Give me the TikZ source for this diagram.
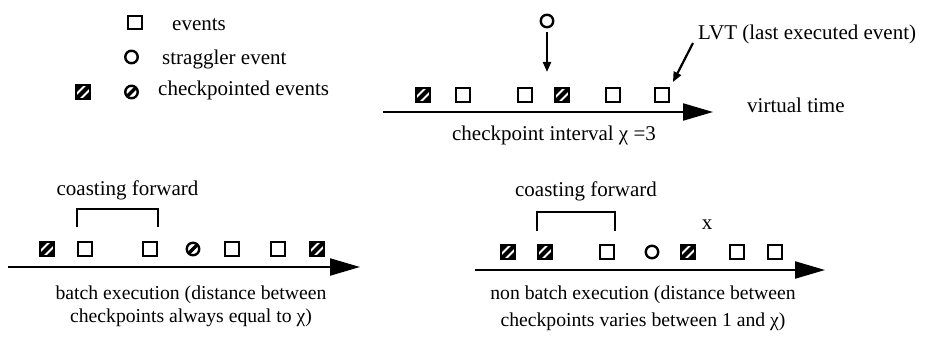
\documentclass[tikz,border=0pt]{standalone}
\usepackage{fontspec}
\setmainfont{Liberation Serif}
\usetikzlibrary{arrows.meta}
\begin{document}
\begin{tikzpicture}[x=1pt,y=-1pt,
  ev/.style={draw,line width=2.4pt,minimum size=13.5pt,inner sep=0pt},
  hev/.style={ev,fill=black,path picture={
     \draw[white,line width=2pt] ([xshift=-4pt,yshift=-8.5pt]path picture bounding box.center) -- ([xshift=8.5pt,yshift=4pt]path picture bounding box.center);
     \draw[white,line width=2pt] ([xshift=-8.5pt,yshift=-4pt]path picture bounding box.center) -- ([xshift=4pt,yshift=8.5pt]path picture bounding box.center);}},
  strag/.style={circle,draw,line width=2.4pt,minimum size=12.5pt,inner sep=0pt},
  hstrag/.style={strag,path picture={
     \draw[line width=3.2pt] (path picture bounding box.south west) -- (path picture bounding box.north east);}},
  lbl/.style={font=\fontsize{21}{24}\selectfont,inner sep=0pt,text height=9.6pt,text depth=0pt},
  sml/.style={font=\fontsize{19.7}{23}\selectfont,inner sep=0pt,text height=9pt,text depth=0pt},
  axis/.style={line width=2.2pt,-{Triangle[length=30pt,width=17pt]}},
  pointer/.style={line width=2.2pt,-{Triangle[length=10pt,width=8pt]}},
  brk/.style={line width=1.8pt}]
\useasboundingbox (0,0) rectangle (927,337);

% legend
\node[ev] (lsq) at (135,22.5) {};
\node[lbl,anchor=west] (lsqt) at (172,26) {events};
\node[strag] (lci) at (131.5,57) {};
\node[lbl,anchor=west] (lcit) at (162,60) {straggler event};
\node[hev] (lhsq) at (83,92) {};
\node[hstrag] (lhci) at (131.5,92) {};
\node[lbl,anchor=west] (lht) at (158,91) {checkpointed events};

% top timeline
\coordinate (ta0) at (383,112);
\coordinate (ta1) at (713,112);
\draw[axis] (ta0) -- (ta1);
\node[hev] (t1) at (423,95) {};
\node[ev] (t2) at (463,95) {};
\node[ev] (t3) at (525,95) {};
\node[hev] (t4) at (562,95) {};
\node[ev] (t5) at (613,95) {};
\node[ev] (t6) at (662,95) {};
\node[strag] (ts) at (547,21) {};
\coordinate (tsend) at (547,72);
\draw[pointer,shorten <=4pt] (ts) -- (tsend);
\node[lbl,anchor=west] (lvt) at (698,35) {LVT (last executed event)};
\draw[pointer] ([xshift=-5pt,yshift=-8pt]lvt.west) -- ([xshift=3pt,yshift=5pt]t6.north east);
\node[lbl,anchor=west] (vt) at (747,108) {virtual time};
\node[lbl] (ci) at (554,136) {checkpoint interval χ =3};

% bottom-left timeline
\coordinate (la0) at (8,267);
\coordinate (la1) at (360,267);
\draw[axis] (la0) -- (la1);
\node[hev] (l1) at (47,249) {};
\node[ev] (l2) at (85,249) {};
\node[ev] (l3) at (150,249) {};
\node[hstrag] (l4) at (193,249) {};
\node[ev] (l5) at (232,249) {};
\node[ev] (l6) at (278,249) {};
\node[hev] (l7) at (317,249) {};
\draw[brk] ([yshift=14pt]l2.north west) -- ([yshift=32pt]l2.north west) -| ([yshift=14pt]l3.north east);
\node[lbl] (lcf) at (127.5,191) {coasting forward};
\node[sml] (lb1) at (191,295) {batch execution (distance between};
\node[sml] (lb2) at (191,318) {checkpoints always equal to χ)};

% bottom-right timeline
\coordinate (ra0) at (475,270);
\coordinate (ra1) at (825,270);
\draw[axis] (ra0) -- (ra1);
\node[hev] (r1) at (508,252) {};
\node[hev] (r2) at (545,252) {};
\node[ev] (r3) at (607,252) {};
\node[strag] (r4) at (652,252) {};
\node[hev] (r5) at (688,252) {};
\node[ev] (r6) at (737,252) {};
\node[ev] (r7) at (775,252) {};
\draw[brk] ([yshift=13pt]r2.north west) -- ([yshift=32pt]r2.north west) -| ([yshift=13pt]r3.north east);
\node[lbl] (rcf) at (586,192) {coasting forward};
\node[lbl] (rx) at (707,225) {x};
\node[sml] (rb1) at (643,295) {non batch execution (distance between};
\node[sml] (rb2) at (643,322) {checkpoints varies between 1 and χ)};
\end{tikzpicture}
\end{document}
